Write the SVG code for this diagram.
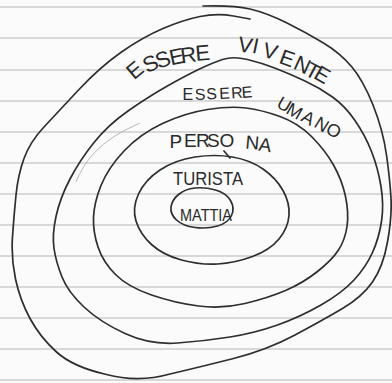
<svg xmlns="http://www.w3.org/2000/svg" width="392" height="383" viewBox="0 0 392 383">
<style>
.paper{fill:#fbfbfb}
.rule{stroke:#cdcdcd;stroke-width:1.3;fill:none}
.ring{fill:none;stroke:#2e2e2e;stroke-width:1.7;stroke-linecap:round;stroke-linejoin:round}
.faint{fill:none;stroke:#b8b8b8;stroke-width:1}
.lbl{font-family:"Liberation Sans","DejaVu Sans",sans-serif;fill:#2a2a2a}
</style>
<rect class="paper" x="0" y="0" width="392" height="383"/>
<g id="rules">
<path class="rule" d="M0 7H392M0 38H392M0 70H392M0 101H392M0 132H392M0 163H392M0 194H392M0 225H392M0 256H392M0 287H392M0 318H392M0 349H392M0 380H392"/>
</g>
<g id="essere-vivente">
<path class="ring" d="M250 19 L233.5 16 Q217 13 200 16.5 Q183 20 163 28.5 Q143 37 121.5 52 Q100 67 78.5 90 Q57 113 43.5 127.5 Q30 142 24 158.5 Q18 175 16 195 Q14 215 12.5 236.5 Q11 258 15.5 279 Q20 300 30 318.5 Q40 337 56.5 352 Q73 367 106.5 374.5 Q138 383 170 374 Q200 367 233.5 358.5 Q267 350 295 335 Q323 320 342.5 308.5 Q362 297 372.5 282 Q383 267 387.5 242 Q392 217 391 198.5 Q390 180 386.5 155 Q383 130 373 105 Q363 80 351.5 66.5 Q340 53 323.5 43 Q307 33 287 23 Q267 13 250 9 Q233 5 203 6"/>
<text class="lbl" font-size="22" x="134 147 158.5 171 181.5 196" y="80.5 73.5 69 65.5 63.5 61" rotate="-40 -25 -20 -12 -8 -5">ESSERE</text>
<text class="lbl" font-size="21.5" x="237 251.3 261.5 278 292.2 303.6 312.5" y="51 52.6 56.4 62.8 68.3 74.6 77.4" rotate="10 12 15 20 25 28 30">VIVENTE</text>
</g>
<g id="essere-umano">
<path class="ring" d="M222.5 59.5 Q233 56 247.5 59.5 Q262 63 276 68.5 Q290 74 305 81 Q320 88 332.5 97 Q345 106 355 120.5 Q365 135 371.5 151.5 Q378 168 381 186.5 Q384 205 381.5 221.5 Q379 238 372.5 252.5 Q366 267 354 280 Q342 293 321 305 Q300 317 277.5 325 Q255 333 230 337 Q205 341 177.5 343 Q150 345 125 333.5 Q100 322 84 307 Q68 292 62 277 Q56 262 54 248.5 Q52 235 56 216.5 Q60 198 70 179 Q80 160 94 142.5 Q108 125 128 111 Q148 97 166.5 86.5 Q185 76 198.5 69.5 Q212 63 222.5 59.5 Z"/>
<path class="faint" d="M140 123 Q110 136 95 152 Q82 166 76 182"/>
<text class="lbl" font-size="16" x="182.5 195 206.5 219.5 231.5 242" y="100 100 99.5 99 98.5 98" rotate="0 -2 -3 -3 -4 -4">ESSERE</text>
<text class="lbl" font-size="18" x="275.5 285 300 313 324.6" y="106.5 112.7 120.2 126.2 132" rotate="30 30 30 32 32">UMANO</text>
</g>
<g id="persona">
<path class="ring" d="M207.5 109.5 Q230 106 246 108 Q262 110 280 116.5 Q298 123 311.5 136.5 Q325 150 333.5 165 Q342 180 345.5 196.5 Q349 213 347 226.5 Q345 240 338.5 250 Q332 260 317.5 271.5 Q303 283 285.5 290.5 Q268 298 245 303.5 Q222 309 198.5 306 Q175 303 151.5 295 Q128 287 115.5 274.5 Q103 262 98 247 Q93 232 93.5 217.5 Q94 203 101 185.5 Q108 168 124 151 Q140 134 162.5 123.5 Q185 113 207.5 109.5 Z"/>
<text class="lbl" font-size="19" x="169.5 184 196 207 219.5 245 258" y="147.5 146.5 146.5 146.5 146.5 148.5 150.5" rotate="0 0 0 0 0 5 8">PERSONA</text>
</g>
<g id="turista">
<path class="ring" d="M195 157 Q215 154 232.5 157 Q250 160 263 169 Q276 178 283 190.5 Q290 203 289 215.5 Q288 228 279 239 Q270 250 252.5 256.5 Q235 263 217.5 264 Q200 265 181.5 260 Q163 255 151.5 244.5 Q140 234 136 221 Q132 208 138.5 194 Q145 180 160 170 Q175 160 195 157 Z"/>
<path class="ring" d="M224 151 L230 158"/>
<text class="lbl" font-size="19" x="173" y="185" textLength="70" lengthAdjust="spacingAndGlyphs">TURISTA</text>
</g>
<g id="mattia">
<path class="ring" d="M171 207 Q172 200 178.5 194.5 Q185 189 195 188 Q205 187 215.5 190 Q226 193 230.5 200.5 Q235 208 231.5 215.5 Q228 223 217.5 226 Q207 229 195 227.5 Q183 226 176.5 220 Q170 214 171 207 Z"/>
<text class="lbl" font-size="17" x="180" y="220.5" textLength="52" lengthAdjust="spacingAndGlyphs">MATTIA</text>
</g>
</svg>
